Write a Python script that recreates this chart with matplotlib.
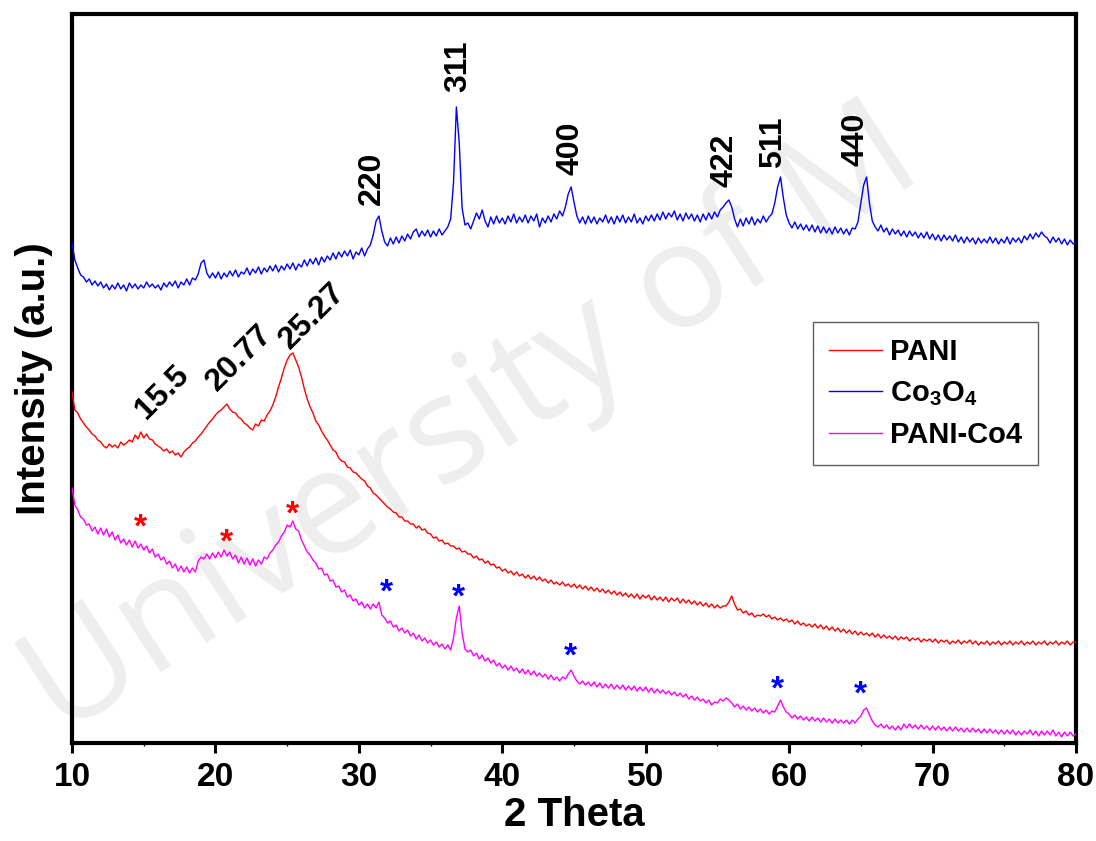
import matplotlib.pyplot as plt
from matplotlib.ticker import MultipleLocator

plt.rcParams["font.family"] = ["Liberation Sans", "DejaVu Sans"]
plt.rcParams["font.weight"] = "bold"
plt.rcParams["mathtext.fontset"] = "custom"
plt.rcParams["mathtext.rm"] = "Liberation Sans:bold"
plt.rcParams["mathtext.it"] = "Liberation Sans:bold"
plt.rcParams["mathtext.bf"] = "Liberation Sans:bold"

# XRD scans on a 0.2 degree step (intensity in offset a.u.)
two_theta = [
    10.0, 10.2, 10.4, 10.6, 10.8, 11.0, 11.2, 11.4, 11.6, 11.8,
    12.0, 12.2, 12.4, 12.6, 12.8, 13.0, 13.2, 13.4, 13.6, 13.8,
    14.0, 14.2, 14.4, 14.6, 14.8, 15.0, 15.2, 15.4, 15.6, 15.8,
    16.0, 16.2, 16.4, 16.6, 16.8, 17.0, 17.2, 17.4, 17.6, 17.8,
    18.0, 18.2, 18.4, 18.6, 18.8, 19.0, 19.2, 19.4, 19.6, 19.8,
    20.0, 20.2, 20.4, 20.6, 20.8, 21.0, 21.2, 21.4, 21.6, 21.8,
    22.0, 22.2, 22.4, 22.6, 22.8, 23.0, 23.2, 23.4, 23.6, 23.8,
    24.0, 24.2, 24.4, 24.6, 24.8, 25.0, 25.2, 25.4, 25.6, 25.8,
    26.0, 26.2, 26.4, 26.6, 26.8, 27.0, 27.2, 27.4, 27.6, 27.8,
    28.0, 28.2, 28.4, 28.6, 28.8, 29.0, 29.2, 29.4, 29.6, 29.8,
    30.0, 30.2, 30.4, 30.6, 30.8, 31.0, 31.2, 31.4, 31.6, 31.8,
    32.0, 32.2, 32.4, 32.6, 32.8, 33.0, 33.2, 33.4, 33.6, 33.8,
    34.0, 34.2, 34.4, 34.6, 34.8, 35.0, 35.2, 35.4, 35.6, 35.8,
    36.0, 36.2, 36.4, 36.6, 36.8, 37.0, 37.2, 37.4, 37.6, 37.8,
    38.0, 38.2, 38.4, 38.6, 38.8, 39.0, 39.2, 39.4, 39.6, 39.8,
    40.0, 40.2, 40.4, 40.6, 40.8, 41.0, 41.2, 41.4, 41.6, 41.8,
    42.0, 42.2, 42.4, 42.6, 42.8, 43.0, 43.2, 43.4, 43.6, 43.8,
    44.0, 44.2, 44.4, 44.6, 44.8, 45.0, 45.2, 45.4, 45.6, 45.8,
    46.0, 46.2, 46.4, 46.6, 46.8, 47.0, 47.2, 47.4, 47.6, 47.8,
    48.0, 48.2, 48.4, 48.6, 48.8, 49.0, 49.2, 49.4, 49.6, 49.8,
    50.0, 50.2, 50.4, 50.6, 50.8, 51.0, 51.2, 51.4, 51.6, 51.8,
    52.0, 52.2, 52.4, 52.6, 52.8, 53.0, 53.2, 53.4, 53.6, 53.8,
    54.0, 54.2, 54.4, 54.6, 54.8, 55.0, 55.2, 55.4, 55.6, 55.8,
    56.0, 56.2, 56.4, 56.6, 56.8, 57.0, 57.2, 57.4, 57.6, 57.8,
    58.0, 58.2, 58.4, 58.6, 58.8, 59.0, 59.2, 59.4, 59.6, 59.8,
    60.0, 60.2, 60.4, 60.6, 60.8, 61.0, 61.2, 61.4, 61.6, 61.8,
    62.0, 62.2, 62.4, 62.6, 62.8, 63.0, 63.2, 63.4, 63.6, 63.8,
    64.0, 64.2, 64.4, 64.6, 64.8, 65.0, 65.2, 65.4, 65.6, 65.8,
    66.0, 66.2, 66.4, 66.6, 66.8, 67.0, 67.2, 67.4, 67.6, 67.8,
    68.0, 68.2, 68.4, 68.6, 68.8, 69.0, 69.2, 69.4, 69.6, 69.8,
    70.0, 70.2, 70.4, 70.6, 70.8, 71.0, 71.2, 71.4, 71.6, 71.8,
    72.0, 72.2, 72.4, 72.6, 72.8, 73.0, 73.2, 73.4, 73.6, 73.8,
    74.0, 74.2, 74.4, 74.6, 74.8, 75.0, 75.2, 75.4, 75.6, 75.8,
    76.0, 76.2, 76.4, 76.6, 76.8, 77.0, 77.2, 77.4, 77.6, 77.8,
    78.0, 78.2, 78.4, 78.6, 78.8, 79.0, 79.2, 79.4, 79.6, 79.8,
    80.0,
]

pani = [
    351, 333, 330, 324, 320, 316, 313, 309, 307, 303,
    301, 297, 295, 299, 296, 298, 295, 301, 298, 300,
    303, 301, 308, 304, 311, 305, 309, 304, 303, 299,
    297, 295, 292, 294, 290, 292, 288, 290, 286, 291,
    294, 296, 300, 302, 306, 309, 313, 317, 321, 324,
    328, 331, 333, 336, 339, 334, 331, 330, 326, 324,
    320, 318, 315, 313, 319, 317, 323, 322, 328, 332,
    338, 346, 356, 365, 375, 383, 388, 390, 383, 376,
    366, 354, 344, 336, 330, 322, 318, 312, 307, 303,
    298, 293, 291, 285, 282, 281, 276, 275, 271, 270,
    267, 264, 262, 257, 255, 250, 248, 245, 242, 239,
    236, 234, 231, 230, 226, 226, 222, 222, 219, 219,
    215, 217, 213, 214, 210, 209, 205, 206, 202, 203,
    199, 200, 197, 197, 194, 195, 191, 192, 189, 189,
    185, 187, 183, 184, 180, 182, 178, 179, 175, 176,
    172, 174, 170, 172, 168, 171, 167, 169, 165, 168,
    164, 167, 163, 166, 162, 164, 160, 163, 159, 161,
    158, 161, 157, 159, 156, 159, 155, 158, 154, 157,
    153, 156, 152, 155, 151, 154, 150, 153, 149, 152,
    148, 151, 147, 150, 146, 149, 145, 149, 144, 148,
    145, 148, 143, 147, 143, 146, 142, 146, 141, 145,
    142, 145, 140, 144, 140, 143, 139, 142, 138, 141,
    137, 140, 136, 139, 135, 138, 135, 137, 137, 141,
    147, 139, 133, 134, 130, 132, 128, 130, 126, 128,
    127, 129, 126, 128, 124, 126, 123, 125, 122, 124,
    121, 123, 119, 122, 118, 120, 117, 119, 116, 119,
    115, 118, 114, 117, 113, 116, 112, 115, 111, 114,
    110, 113, 109, 112, 108, 111, 108, 110, 107, 110,
    106, 109, 105, 108, 105, 107, 104, 107, 103, 106,
    104, 106, 102, 105, 103, 105, 101, 104, 102, 104,
    101, 104, 100, 103, 101, 103, 99, 102, 100, 103,
    99, 102, 100, 103, 99, 102, 98, 101, 99, 102,
    98, 101, 99, 102, 98, 101, 99, 102, 98, 101,
    99, 102, 98, 101, 99, 102, 98, 101, 99, 102,
    98, 101, 99, 102, 98, 101, 99, 102, 98, 101,
    101,
]

co3o4 = [
    500, 483, 475, 468, 466, 461, 464, 458, 462, 457,
    461, 455, 459, 453, 458, 454, 460, 454, 458, 452,
    460, 455, 459, 454, 458, 455, 461, 456, 459, 455,
    458, 453, 460, 456, 461, 457, 462, 455, 461, 458,
    464, 458, 465, 463, 469, 480, 483, 470, 465, 470,
    465, 471, 464, 470, 466, 472, 467, 473, 466, 471,
    469, 475, 468, 474, 470, 476, 469, 475, 471, 477,
    472, 478, 471, 477, 473, 479, 474, 480, 473, 479,
    476, 483, 477, 484, 479, 485, 478, 486, 481, 487,
    483, 490, 484, 491, 486, 492, 487, 493, 484, 491,
    488, 495, 487, 494, 498, 508, 522, 527, 512, 501,
    497, 505, 499, 506, 500, 507, 502, 509, 504, 511,
    514, 506, 512, 507, 513, 506, 512, 507, 514, 508,
    512, 516, 524, 560, 636, 600, 535, 518, 520, 514,
    522, 530, 524, 533, 522, 516, 526, 519, 527, 520,
    525, 519, 527, 521, 529, 520, 526, 521, 528, 520,
    527, 522, 529, 516, 525, 520, 527, 521, 529, 524,
    532, 527, 536, 549, 556, 541, 527, 520, 526, 519,
    527, 520, 526, 519, 525, 521, 528, 520, 526, 519,
    527, 521, 528, 520, 526, 521, 529, 520, 525, 519,
    527, 522, 528, 522, 529, 523, 531, 524, 530, 526,
    532, 523, 529, 522, 530, 524, 529, 522, 528, 521,
    529, 523, 530, 524, 531, 526, 533, 536, 540, 543,
    536, 524, 516, 524, 517, 525, 519, 526, 518, 524,
    520, 527, 521, 526, 529, 540, 556, 566, 545, 528,
    520, 515, 521, 514, 519, 513, 518, 512, 518, 511,
    517, 510, 516, 510, 515, 509, 516, 510, 515, 509,
    514, 508, 515, 514, 521, 540, 558, 566, 540, 522,
    516, 512, 518, 511, 515, 508, 514, 509, 513, 507,
    512, 506, 512, 507, 511, 505, 510, 505, 511, 504,
    509, 503, 508, 502, 508, 503, 507, 502, 508, 501,
    506, 500, 506, 501, 505, 499, 505, 500, 504, 500,
    506, 500, 505, 499, 504, 500, 506, 499, 505, 501,
    505, 500, 507, 503, 509, 504, 510, 506, 511, 507,
    505, 500, 506, 501, 505, 499, 504, 498, 503, 499,
    500,
]

pani_co4 = [
    255, 238, 233, 226, 224, 218, 219, 212, 216, 209,
    215, 208, 214, 206, 211, 203, 208, 200, 204, 198,
    203, 196, 202, 195, 199, 193, 197, 190, 194, 186,
    189, 183, 186, 179, 182, 175, 179, 172, 177, 171,
    176, 170, 175, 171, 182, 186, 184, 189, 184, 190,
    185, 191, 186, 193, 187, 191, 184, 188, 180, 186,
    179, 185, 178, 184, 177, 183, 179, 186, 184, 190,
    193, 198, 201, 207, 211, 218, 216, 222, 214, 212,
    203, 197, 191, 188, 183, 180, 174, 175, 168, 169,
    162, 163, 156, 157, 151, 153, 146, 148, 142, 144,
    138, 141, 135, 139, 134, 139, 135, 141, 128, 125,
    120, 122, 116, 118, 112, 115, 110, 113, 107, 110,
    104, 108, 102, 105, 100, 103, 98, 101, 96, 99,
    94, 98, 93, 105, 125, 137, 110, 94, 91, 93,
    87, 90, 84, 88, 82, 85, 80, 83, 77, 80,
    75, 78, 73, 77, 72, 75, 70, 74, 69, 73,
    68, 72, 67, 70, 66, 69, 64, 68, 63, 66,
    62, 66, 64, 69, 73, 67, 62, 59, 62, 58,
    61, 57, 61, 56, 60, 55, 59, 55, 59, 54,
    58, 54, 58, 53, 57, 53, 57, 52, 56, 52,
    56, 51, 55, 50, 54, 50, 53, 49, 52, 48,
    51, 47, 50, 46, 49, 44, 47, 43, 46, 42,
    44, 40, 43, 38, 41, 40, 44, 42, 45, 43,
    40, 36, 39, 34, 37, 33, 36, 32, 35, 31,
    34, 30, 33, 29, 32, 31, 37, 43, 36, 31,
    29, 25, 28, 24, 27, 23, 26, 22, 26, 22,
    25, 21, 25, 21, 24, 20, 24, 20, 23, 20,
    23, 19, 23, 20, 24, 27, 33, 35, 28, 22,
    18, 16, 19, 15, 18, 14, 17, 13, 17, 13,
    19, 15, 19, 15, 18, 14, 18, 14, 17, 13,
    17, 13, 17, 13, 16, 12, 16, 12, 16, 12,
    15, 11, 15, 11, 15, 11, 14, 10, 14, 10,
    14, 10, 13, 9, 13, 9, 13, 9, 13, 8,
    12, 8, 12, 9, 13, 8, 12, 7, 12, 8,
    12, 8, 13, 7, 11, 6, 11, 7, 11, 7,
    9,
]

# Co3O4 reflections: 2theta, hkl, height of label base
hkl_theta = [30.93, 36.94, 44.75, 55.5, 58.9, 64.64]
hkl_labels = ["220", "311", "400", "422", "511", "440"]
hkl_base = [538, 651, 568, 556, 575, 577]

# PANI peak annotations (slanted)
pani_peak_labels = ["15.5", "20.77", "25.27"]
pani_label_theta = [15.15, 20.1, 25.2]
pani_label_base = [323, 351, 393]

# star markers on the composite pattern
red_star_theta = [14.75, 20.75, 25.35]
red_star_int = [215, 200, 228]
blue_star_theta = [31.91, 36.94, 44.75, 59.2, 64.99]
blue_star_int = [150, 145, 86, 53, 48]

fig = plt.figure(figsize=(10.96, 8.41), dpi=100)
ax = fig.add_axes([0.0657, 0.1165, 0.916, 0.8669])

# faint watermark behind the data
ax.text(0.0, 0.13, "University of M", transform=fig.transFigure, rotation=33,
        fontsize=106, family="Open Sans", fontweight="normal", color="#eeeeee",
        ha="left", va="baseline", zorder=0, clip_on=False)

ax.plot(two_theta, pani, color="#ff0000", lw=1.0, label="PANI", zorder=3)
ax.plot(two_theta, co3o4, color="#0000ff", lw=1.0, label="Co$_3$O$_4$", zorder=3)
ax.plot(two_theta, pani_co4, color="#ff00ff", lw=1.0, label="PANI-Co4", zorder=3)

for t, lab, b in zip(hkl_theta, hkl_labels, hkl_base):
    ax.text(t, b, lab, rotation=90, ha="center", va="bottom", fontsize=23, fontweight="bold")

for t, lab, b in zip(pani_label_theta, pani_peak_labels, pani_label_base):
    ax.text(t, b, lab, rotation=45, rotation_mode="anchor", ha="left", va="baseline",
            fontsize=23, fontweight="bold")

for t, v in zip(red_star_theta, red_star_int):
    ax.text(t, v, "*", color="#ff0000", ha="center", va="center", fontsize=24, fontweight="bold")
for t, v in zip(blue_star_theta, blue_star_int):
    ax.text(t, v, "*", color="#0000ff", ha="center", va="center", fontsize=24, fontweight="bold")

ax.set_xlim(10, 80)
ax.set_ylim(0, 729)
ax.xaxis.set_major_locator(MultipleLocator(10))
ax.xaxis.set_minor_locator(MultipleLocator(5))
ax.set_yticks([])
ax.tick_params(axis="x", which="major", direction="out", length=7, width=2.2,
               labelsize=24, pad=7)
ax.tick_params(axis="x", which="minor", direction="out", length=2.5, width=1)
for lab in ax.get_xticklabels():
    lab.set_fontweight("bold")
for sp in ax.spines.values():
    sp.set_linewidth(3)

ax.set_xlabel("2 Theta", fontsize=29, fontweight="bold", labelpad=2)
ax.set_ylabel("Intensity (a.u.)", fontsize=29, fontweight="bold", labelpad=14)

leg = ax.legend(loc="upper left", bbox_to_anchor=(0.7418, 0.6171), bbox_transform=fig.transFigure,
                borderaxespad=0, fontsize=21, frameon=True, fancybox=False, handlelength=1.8,
                handletextpad=0.3, labelspacing=0.45, borderpad=0.55)
leg.get_frame().set_edgecolor("#333333")
leg.get_frame().set_linewidth(1.0)
for text in leg.get_texts():
    text.set_fontweight("bold")

fig.savefig("out.png", dpi=100)
